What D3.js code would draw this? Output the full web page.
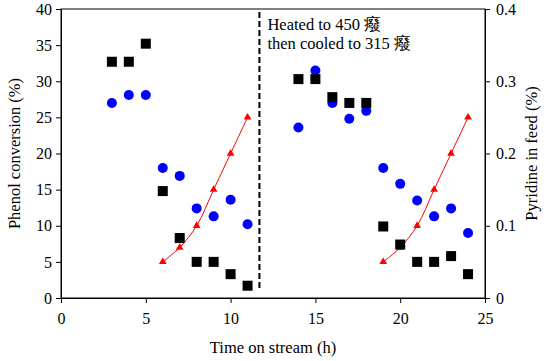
<!DOCTYPE html>
<html>
<head>
<meta charset="utf-8">
<script src="https://cdn.jsdelivr.net/npm/d3@7"></script>
<style>
  body { margin: 0; background: #fff; }
  text { font-family: "Liberation Serif", "Times New Roman", serif; }
</style>
</head>
<body>
<svg id="chart" width="550" height="361"></svg>
<script>
// time on stream (h)
var hours = [3, 4, 5, 6, 7, 8, 9, 10, 11, 14, 15, 16, 17, 18, 19, 20, 21, 22, 23, 24];
// phenol conversion (%) - squares
var squareVals = [32.7, 32.7, 35.2, 14.8, 8.3, 5.0, 5.0, 3.3, 1.7,
                  30.3, 30.3, 27.8, 27.0, 27.0, 9.9, 7.4, 5.0, 5.0, 5.8, 3.3];
// phenol conversion (%) - circles
var circleVals = [27.0, 28.1, 28.1, 18.0, 16.9, 12.4, 11.3, 13.6, 10.2,
                  23.6, 31.5, 27.0, 24.8, 25.9, 18.0, 15.8, 13.5, 11.3, 12.4, 9.0];
// pyridine in feed (%), two runs
var pyHours1 = [6, 7, 8, 9, 10, 11];
var pyHours2 = [19, 20, 21, 22, 23, 24];
var pyVals = [0.05, 0.07, 0.10, 0.15, 0.20, 0.25];
var switchHour = 11.7;
var noteLines = ["Heated to 450 癈", "then cooled to 315 癈"];

var svg = d3.select("#chart");
var plotL = 61, plotR = 485, plotT = 9, plotB = 298;

var x = d3.scaleLinear().domain([0, 25]).range([plotL, plotR]);
var y = d3.scaleLinear().domain([0, 40]).range([plotB, plotT]);
var y2 = d3.scaleLinear().domain([0, 0.4]).range([plotB, plotT]);

// frame
svg.append("rect")
    .attr("x", plotL).attr("y", plotT)
    .attr("width", plotR - plotL).attr("height", plotB - plotT)
    .attr("fill", "none").attr("stroke", "#000").attr("stroke-width", 1);

function styleAxis(g) {
    g.selectAll("path").attr("stroke", "#000");
    g.selectAll("line").attr("stroke", "#000");
    g.selectAll("text")
        .style("font-family", '"Liberation Serif", serif')
        .style("font-size", "16px")
        .attr("fill", "#000");
}

svg.append("g")
    .attr("transform", "translate(0," + plotB + ")")
    .call(d3.axisBottom(x).tickValues([0, 5, 10, 15, 20, 25]).tickSize(5).tickPadding(10).tickSizeOuter(0))
    .call(styleAxis);

svg.append("g")
    .attr("transform", "translate(" + plotL + ",0)")
    .call(d3.axisLeft(y).tickValues(d3.range(0, 41, 5)).tickSize(5).tickPadding(4).tickSizeOuter(0))
    .call(styleAxis);

svg.append("g")
    .attr("transform", "translate(" + plotR + ",0)")
    .call(d3.axisRight(y2).tickValues([0, 0.1, 0.2, 0.3, 0.4]).tickSize(5).tickPadding(6).tickSizeOuter(0)
        .tickFormat(function (d) { return d === 0 ? "0" : d3.format(".1f")(d); }))
    .call(styleAxis);

// axis titles
svg.append("text")
    .attr("x", (plotL + plotR) / 2).attr("y", 353)
    .attr("text-anchor", "middle").style("font-size", "16.5px")
    .text("Time on stream (h)");

svg.append("text")
    .attr("transform", "translate(20," + (plotT + plotB) / 2 + ") rotate(-90)")
    .attr("text-anchor", "middle").style("font-size", "16.5px")
    .text("Phenol conversion (%)");

svg.append("text")
    .attr("transform", "translate(537," + (plotT + plotB) / 2 + ") rotate(-90)")
    .attr("text-anchor", "middle").style("font-size", "16.5px")
    .text("Pyridine in feed (%)");

// dashed switch line
svg.append("line")
    .attr("x1", x(switchHour)).attr("x2", x(switchHour))
    .attr("y1", plotT + 3).attr("y2", plotB - 8)
    .attr("stroke", "#000").attr("stroke-width", 2)
    .attr("stroke-dasharray", "6,3");

svg.append("g").selectAll("text").data(noteLines).enter().append("text")
    .attr("x", x(switchHour) + 8)
    .attr("y", function (d, i) { return 30 + i * 19; })
    .style("font-size", "16.5px")
    .text(function (d) { return d; });

// pyridine lines
var line = d3.line()
    .x(function (d) { return x(d[0]); })
    .y(function (d) { return y2(d[1]); })
    .curve(d3.curveCatmullRom.alpha(0.5));

[pyHours1, pyHours2].forEach(function (hrs) {
    var pts = hrs.map(function (h, i) { return [h, pyVals[i]]; });
    svg.append("path").datum(pts)
        .attr("d", line)
        .attr("fill", "none").attr("stroke", "#ff0000").attr("stroke-width", 1);
    svg.append("g").selectAll("path").data(pts).enter().append("path")
        .attr("d", d3.symbol().type(d3.symbolTriangle).size(26))
        .attr("transform", function (d) { return "translate(" + x(d[0]) + "," + y2(d[1]) + ")"; })
        .attr("fill", "#ff0000");
});

// circles
svg.append("g").selectAll("circle").data(hours).enter().append("circle")
    .attr("cx", function (d) { return x(d); })
    .attr("cy", function (d, i) { return y(circleVals[i]); })
    .attr("r", 5)
    .attr("fill", "#0000ff");

// squares
svg.append("g").selectAll("rect").data(hours).enter().append("rect")
    .attr("x", function (d) { return x(d) - 5; })
    .attr("y", function (d, i) { return y(squareVals[i]) - 5; })
    .attr("width", 10).attr("height", 10)
    .attr("fill", "#000");
</script>
</body>
</html>
